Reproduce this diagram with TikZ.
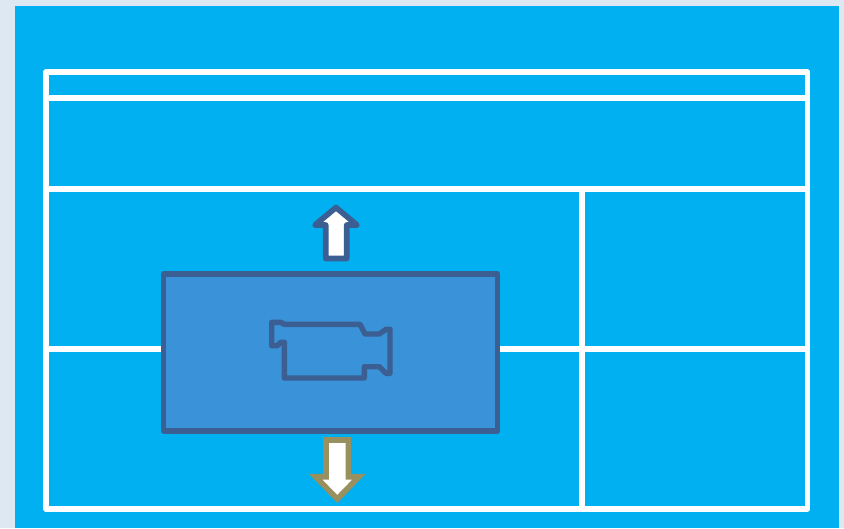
\documentclass[tikz,border=0pt]{standalone}
\definecolor{pagebg}{HTML}{DEE8F3}
\definecolor{panel}{HTML}{00B0F0}
\definecolor{boxfill}{HTML}{3A92D8}
\definecolor{boxline}{HTML}{3B5F92}
\definecolor{olive}{HTML}{98905E}
\tikzset{
  gridline/.style={draw=white,line width=5.6pt,line join=round},
  darkline/.style={draw=boxline,line width=5.4pt,line join=round},
  camline/.style={draw=boxline,line width=5.4pt,line join=round},
  uparrow/.style={draw=boxline,fill=white,line width=5.6pt,line join=round},
  downarrow/.style={draw=olive,fill=white,line width=5.6pt,line join=miter}
}
\begin{document}
\begin{tikzpicture}[x=1pt,y=-1pt]
\useasboundingbox (0,0) rectangle (844,528);
\fill[pagebg] (0,0) rectangle (844,528);
\fill[panel] (15,6) rectangle (839,528);
% table grid
\draw[gridline] (46,72) rectangle (807.5,509);
\draw[gridline] (46,98) -- (807.5,98);
\draw[gridline] (46,189) -- (807.5,189);
\draw[gridline] (46,349) -- (807.5,349);
\draw[gridline] (582,189) -- (582,509);
% blue box
\draw[darkline,fill=boxfill] (163.5,274) rectangle (497.7,431);
% camera
\draw[camline] (271.7,322.3) -- (280.7,322.3) -- (284.3,324.3) -- (360,324.3) -- (365,334) -- (379.3,334) -- (386,329.3) -- (390,329.3) -- (390,373.3) -- (386,373.3) -- (379.3,366.7) -- (364.3,366.7) -- (364.3,378) -- (284.3,378) -- (284.3,342.3) -- (280.7,342.3) -- (277.3,345.7) -- (271.7,345.7) -- cycle;
% up arrow
\draw[uparrow] (336,207.5) -- (357,225) -- (346.7,225) -- (346.7,258.5) -- (325.7,258.5) -- (325.7,225) -- (315,225) -- cycle;
% down arrow
\draw[downarrow] (326,440) -- (348.3,440) -- (348.3,476.7) -- (359,476.7) -- (337.3,499) -- (315.5,476.7) -- (326,476.7) -- cycle;
\end{tikzpicture}
\end{document}
